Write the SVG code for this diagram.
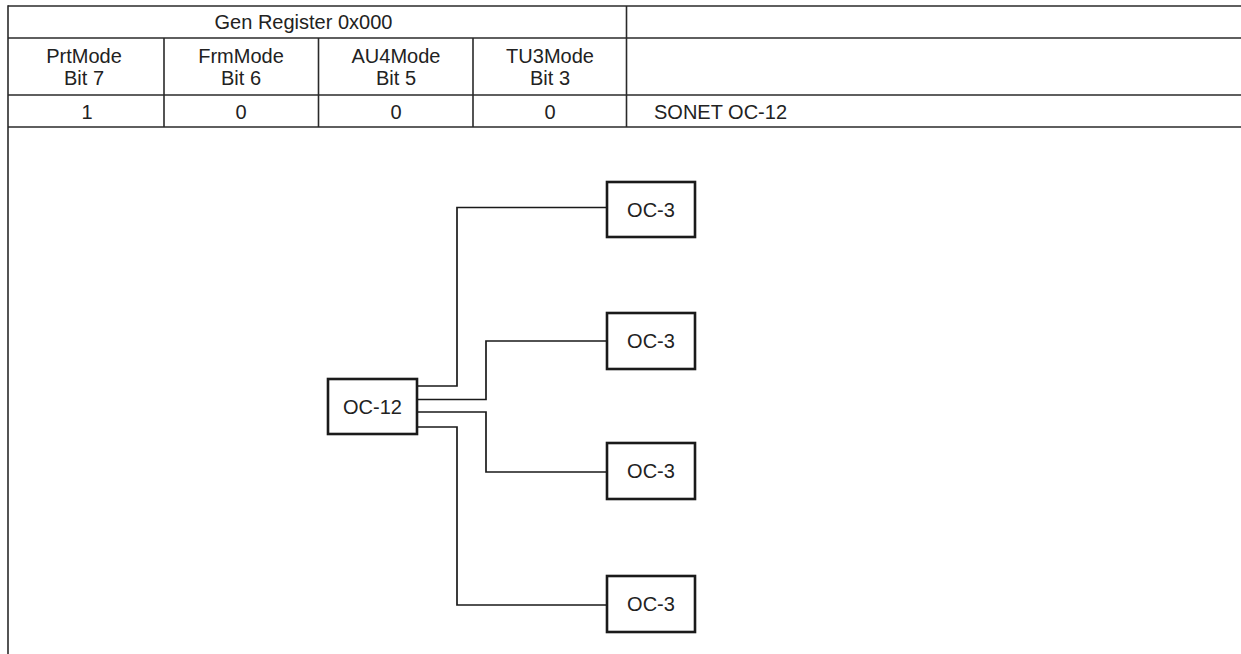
<svg xmlns="http://www.w3.org/2000/svg" width="1241" height="654" viewBox="0 0 1241 654">
<style>
text{font-family:"Liberation Sans",Arial,Helvetica,sans-serif;font-size:20px;fill:#222}
.c{text-anchor:middle}
.tl{stroke:#2a2a2a;stroke-width:1.6;fill:none}
.box{fill:#fff;stroke:#1a1a1a;stroke-width:2.6}
.wire{stroke:#1a1a1a;stroke-width:1.7;fill:none}
</style>
<rect width="1241" height="654" fill="#fff"/>
<g id="table">
<line class="tl" x1="8" y1="6" x2="1241" y2="6"/>
<line class="tl" x1="8" y1="38" x2="1241" y2="38"/>
<line class="tl" x1="8" y1="95" x2="1241" y2="95"/>
<line class="tl" x1="8" y1="127" x2="1241" y2="127"/>
<line class="tl" x1="8" y1="5.2" x2="8" y2="654" stroke-width="2"/>
<line class="tl" x1="164" y1="38" x2="164" y2="127"/>
<line class="tl" x1="318.5" y1="38" x2="318.5" y2="127"/>
<line class="tl" x1="473" y1="38" x2="473" y2="127"/>
<line class="tl" x1="626.5" y1="6" x2="626.5" y2="127"/>
<text class="c" x="303.5" y="29">Gen Register 0x000</text>
<text class="c" x="84" y="63">PrtMode</text>
<text class="c" x="84" y="85">Bit 7</text>
<text class="c" x="241" y="63">FrmMode</text>
<text class="c" x="241" y="85">Bit 6</text>
<text class="c" x="396" y="63">AU4Mode</text>
<text class="c" x="396" y="85">Bit 5</text>
<text class="c" x="550" y="63">TU3Mode</text>
<text class="c" x="550" y="85">Bit 3</text>
<text class="c" x="87" y="119">1</text>
<text class="c" x="241" y="119">0</text>
<text class="c" x="396" y="119">0</text>
<text class="c" x="550" y="119">0</text>
<text x="654" y="119">SONET OC-12</text>
</g>
<g id="connectors">
<polyline class="wire" points="417,386 457,386 457,207.5 607,207.5"/>
<polyline class="wire" points="417,399.5 486,399.5 486,341 607,341"/>
<polyline class="wire" points="417,412 486,412 486,472 607,472"/>
<polyline class="wire" points="417,427 457,427 457,605 607,605"/>
</g>
<g id="oc12">
<rect class="box" x="328" y="379" width="89" height="55"/>
<text class="c" x="372.5" y="414">OC-12</text>
</g>
<g id="oc3a">
<rect class="box" x="607" y="182" width="88" height="55"/>
<text class="c" x="651" y="217">OC-3</text>
</g>
<g id="oc3b">
<rect class="box" x="607" y="313" width="88" height="56"/>
<text class="c" x="651" y="348">OC-3</text>
</g>
<g id="oc3c">
<rect class="box" x="607" y="443" width="88" height="56"/>
<text class="c" x="651" y="478">OC-3</text>
</g>
<g id="oc3d">
<rect class="box" x="607" y="576" width="88" height="56"/>
<text class="c" x="651" y="611">OC-3</text>
</g>
</svg>
